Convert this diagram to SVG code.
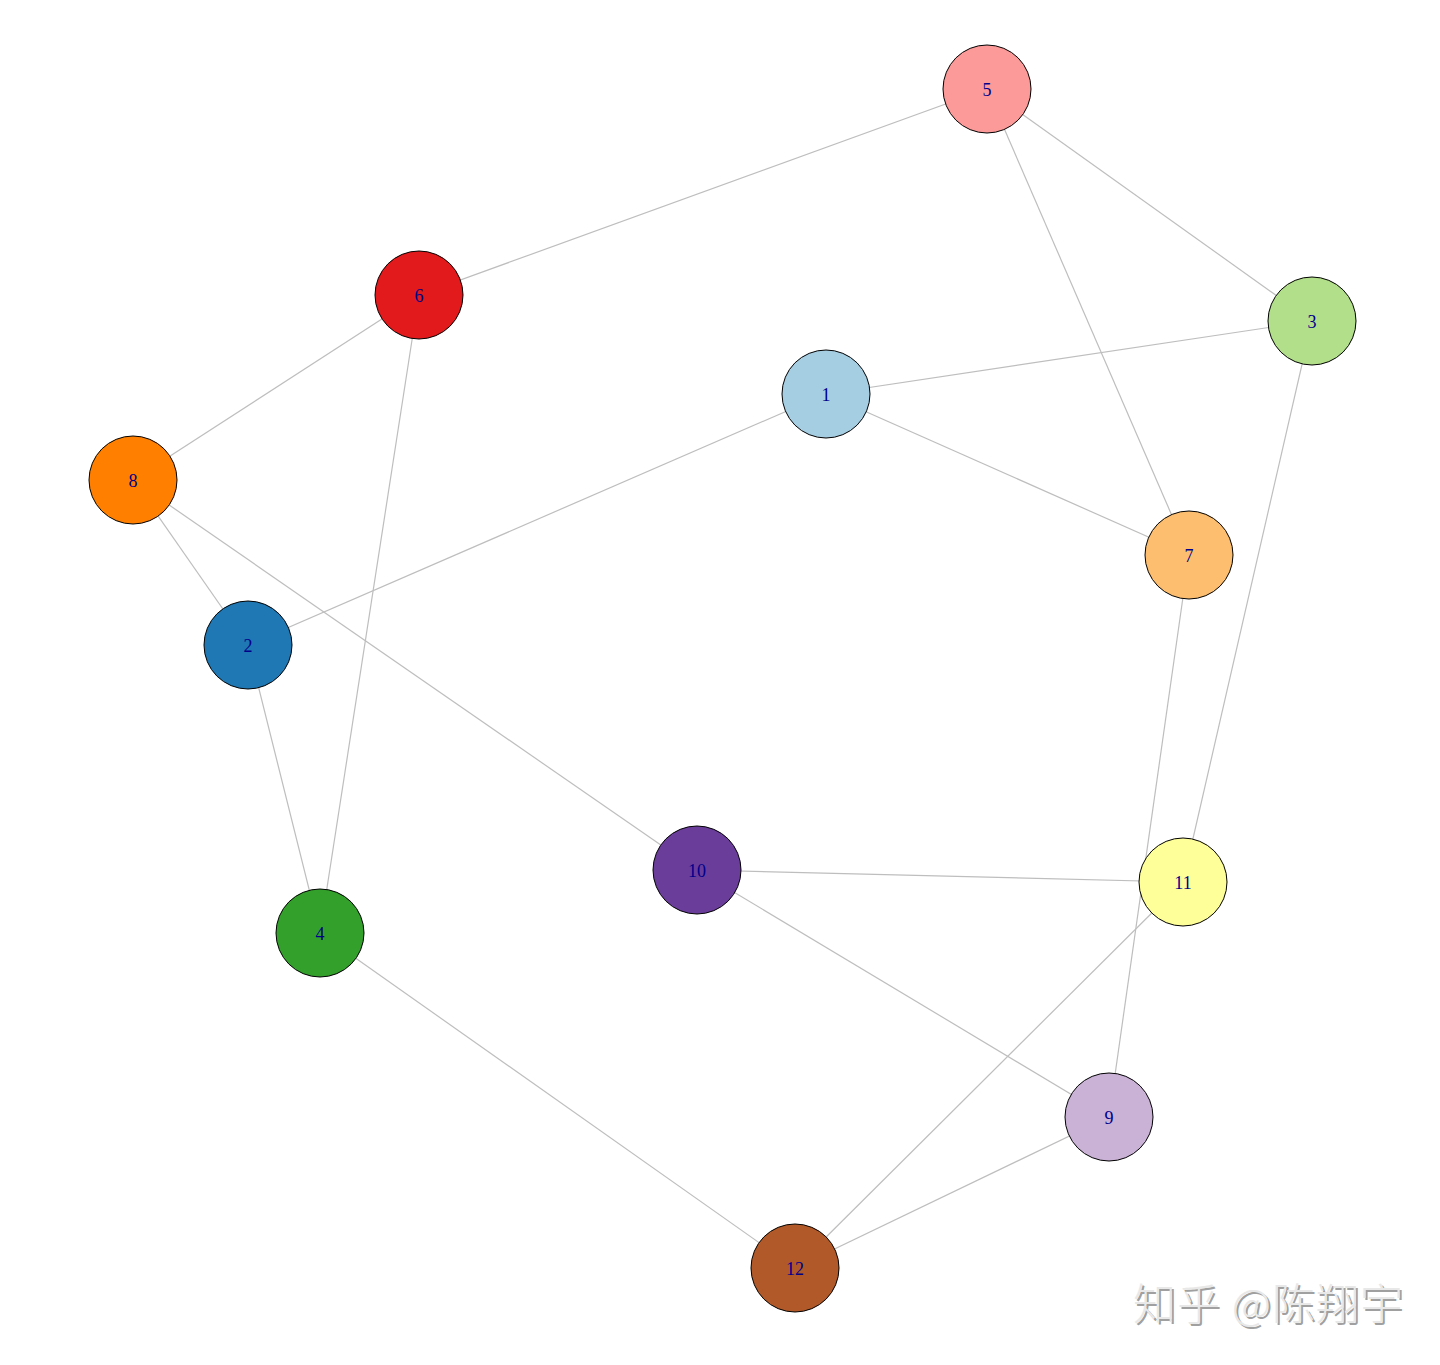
<svg xmlns="http://www.w3.org/2000/svg" width="1440" height="1365" viewBox="0 0 1440 1365">
<style>
.e{stroke:#BEBEBE;stroke-width:1.2;fill:none}
.n{stroke:#000;stroke-width:1}
.l{font-family:"Liberation Serif",serif;font-size:18px;fill:#00008B;text-anchor:middle;dominant-baseline:central}
.wm{font-family:"Noto Sans CJK SC",sans-serif;font-size:43px;font-weight:300}
</style>
<rect width="1440" height="1365" fill="#fff"/>
<g id="edges">
<line class="e" x1="987" y1="89" x2="419" y2="295"/>
<line class="e" x1="987" y1="89" x2="1312" y2="321"/>
<line class="e" x1="987" y1="89" x2="1189" y2="555"/>
<line class="e" x1="419" y1="295" x2="133" y2="480"/>
<line class="e" x1="419" y1="295" x2="320" y2="933"/>
<line class="e" x1="826" y1="394" x2="1312" y2="321"/>
<line class="e" x1="826" y1="394" x2="1189" y2="555"/>
<line class="e" x1="826" y1="394" x2="248" y2="645"/>
<line class="e" x1="133" y1="480" x2="248" y2="645"/>
<line class="e" x1="133" y1="480" x2="697" y2="870"/>
<line class="e" x1="248" y1="645" x2="320" y2="933"/>
<line class="e" x1="1312" y1="321" x2="1183" y2="882"/>
<line class="e" x1="1189" y1="555" x2="1109" y2="1117"/>
<line class="e" x1="697" y1="870" x2="1183" y2="882"/>
<line class="e" x1="697" y1="870" x2="1109" y2="1117"/>
<line class="e" x1="1183" y1="882" x2="795" y2="1268"/>
<line class="e" x1="320" y1="933" x2="795" y2="1268"/>
<line class="e" x1="1109" y1="1117" x2="795" y2="1268"/>
</g>
<g id="node1"><circle class="n" cx="826" cy="394" r="44" fill="#A6CEE3"/><text class="l" x="826" y="395">1</text></g>
<g id="node2"><circle class="n" cx="248" cy="645" r="44" fill="#1F78B4"/><text class="l" x="248" y="646">2</text></g>
<g id="node3"><circle class="n" cx="1312" cy="321" r="44" fill="#B2DF8A"/><text class="l" x="1312" y="322">3</text></g>
<g id="node4"><circle class="n" cx="320" cy="933" r="44" fill="#33A02C"/><text class="l" x="320" y="934">4</text></g>
<g id="node5"><circle class="n" cx="987" cy="89" r="44" fill="#FB9A99"/><text class="l" x="987" y="90">5</text></g>
<g id="node6"><circle class="n" cx="419" cy="295" r="44" fill="#E31A1C"/><text class="l" x="419" y="296">6</text></g>
<g id="node7"><circle class="n" cx="1189" cy="555" r="44" fill="#FDBF6F"/><text class="l" x="1189" y="556">7</text></g>
<g id="node8"><circle class="n" cx="133" cy="480" r="44" fill="#FF7F00"/><text class="l" x="133" y="481">8</text></g>
<g id="node9"><circle class="n" cx="1109" cy="1117" r="44" fill="#CAB2D6"/><text class="l" x="1109" y="1118">9</text></g>
<g id="node10"><circle class="n" cx="697" cy="870" r="44" fill="#6A3D9A"/><text class="l" x="697" y="871">10</text></g>
<g id="node11"><circle class="n" cx="1183" cy="882" r="44" fill="#FFFF99"/><text class="l" x="1183" y="883">11</text></g>
<g id="node12"><circle class="n" cx="795" cy="1268" r="44" fill="#B15928"/><text class="l" x="795" y="1269">12</text></g>
<g id="watermark">
<text class="wm" x="1135" y="1322" fill="#a0a0a0" textLength="270">知乎 @陈翔宇</text>
<text class="wm" x="1133" y="1320" fill="#e8e8e8" textLength="270">知乎 @陈翔宇</text>
</g>
</svg>
